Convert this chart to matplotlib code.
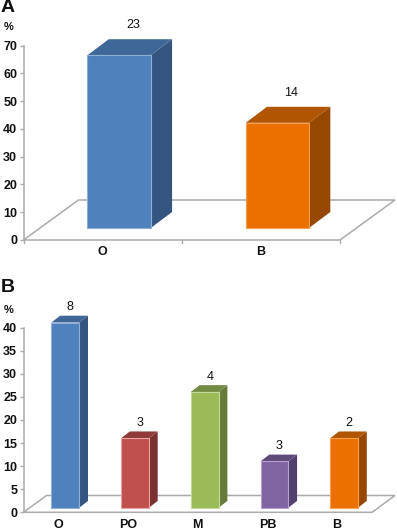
import matplotlib
matplotlib.use("Agg")
import matplotlib.pyplot as plt
from matplotlib.patches import Polygon

plt.rcParams['font.family'] = ['Liberation Sans', 'DejaVu Sans']

W, H = 397, 530

cats_a = ['O', 'B']
pct_a = [65.7, 40]
counts_a = ['23', '14']
cats_b = ['O', 'PO', 'M', 'PB', 'B']
pct_b = [40, 15, 25, 10, 15]
counts_b = ['8', '3', '4', '3', '2']
ticks_a = [0, 10, 20, 30, 40, 50, 60, 70]
ticks_b = [0, 5, 10, 15, 20, 25, 30, 35, 40]

BLUE = ('#4f81bd', '#3f6797', '#345580', '#8fb0d8')
ORANGE = ('#eb7000', '#b05500', '#964800', '#f5a050')
RED = ('#c0504d', '#8f3a38', '#7a3130', '#e6a5a3')
GREEN = ('#9bbb59', '#728a41', '#667b39', '#c4d89a')
PURPLE = ('#8064a2', '#5f4a79', '#52406e', '#b5a0cf')
colors_a = [BLUE, ORANGE]
colors_b = [BLUE, RED, GREEN, PURPLE, ORANGE]

GRAY = '#ababab'
fig = plt.figure(figsize=(W / 100, H / 100), dpi=100)


def px_axes(left, right, top, bottom, **kw):
    return fig.add_axes([left / W, 1 - bottom / H, (right - left) / W, (bottom - top) / H], **kw)


def panel(cats, vals, counts, colors, ticks, letter, letter_y, pct_y,
          ax_l, ax_r, y0, ytop, ymax, base_y, unit, shift, bar_w, dep_x, dep_y,
          floor_x, floor_y, lab_dx, lab_dy, cat_y, xticks_on):
    n = len(cats)
    ax = px_axes(ax_l, ax_r, ytop, y0)
    ax.set_xlim(-0.5, n - 0.5)
    ax.set_ylim(0, ymax)
    ax.patch.set_alpha(0)
    for s in ('top', 'right'):
        ax.spines[s].set_visible(False)
    ax.spines['left'].set_color(GRAY)
    ax.spines['left'].set_linewidth(1.1)
    ax.spines['bottom'].set_visible(False)
    ax.set_yticks(ticks)
    ax.set_yticklabels([str(t) for t in ticks], fontweight='bold', fontsize=9, color='#111111')
    ax.tick_params(axis='y', length=3, width=1, color=GRAY, pad=1.5)
    ax.set_xticks(range(n))
    ax.set_xticklabels([])
    ax.tick_params(axis='x', length=0)

    px_cat = (ax_r - ax_l) / n
    px_val = (y0 - ytop) / ymax
    fx, fy = floor_x / px_cat, floor_y / px_val
    ax.add_patch(Polygon([(-0.5, 0), (n - 0.5, 0), (n - 0.5 + fx, fy), (-0.5 + fx, fy)],
                         closed=True, fill=False, edgecolor=GRAY, lw=1.1, clip_on=False))
    if xticks_on:
        for k in range(n + 1):
            ax.plot([k - 0.5, k - 0.5], [0, -3 / px_val], color=GRAY, lw=1, clip_on=False)

    for i, c in enumerate(cats):
        fig.text((ax_l + px_cat * (i + 0.5)) / W, 1 - cat_y / H, c, ha='center', va='center',
                 fontweight='bold', fontsize=9, color='#111111')

    # bars live on the front plane, which has its own baseline and scale
    bx = px_axes(ax_l + shift, ax_r + shift, base_y - unit * ymax, base_y)
    bx.set_xlim(-0.5, n - 0.5)
    bx.set_ylim(0, ymax)
    bx.axis('off')
    dx, dy = dep_x / px_cat, dep_y / unit
    for i, v in enumerate(vals):
        front, top, side, edge = colors[i]
        r = i + bar_w / 2
        l = i - bar_w / 2
        bx.add_patch(Polygon([(r, 0), (r + dx, dy), (r + dx, v + dy), (r, v)], closed=True,
                             facecolor=side, edgecolor='none', clip_on=False))
        bx.add_patch(Polygon([(l, v), (l + dx, v + dy), (r + dx, v + dy), (r, v)], closed=True,
                             facecolor=top, edgecolor='none', clip_on=False))
        bx.bar(i, v, width=bar_w, color=front, edgecolor=edge, linewidth=0.8, clip_on=False)
        bx.annotate(counts[i], (i, v), xytext=(lab_dx * 0.72, lab_dy * 0.72), textcoords='offset points',
                    ha='center', va='center', fontsize=9, color='#111111', annotation_clip=False)

    fig.text(1 / W, 1 - letter_y / H, letter, ha='left', va='center', fontweight='bold',
             fontsize=14, color='#111111')
    fig.text(8.5 / W, 1 - pct_y / H, '%', ha='center', va='center', fontweight='bold',
             fontsize=8, color='#111111')


panel(cats_a, pct_a, counts_a, colors_a, ticks_a, 'A', 8, 27,
      23.5, 340, 240, 45.7, 70, 228, 2.63, 16.5, 0.4, 21.3, 16,
      55, 40, 14, 30, 252, True)
panel(cats_b, pct_b, counts_b, colors_b, ticks_b, 'B', 287, 310,
      23.5, 372, 512.3, 327.7, 40, 507.7, 4.63, 7, 0.4, 8.7, 6.8,
      23, 16.8, 5, 15, 525, False)

fig.savefig('out.png', dpi=100)
